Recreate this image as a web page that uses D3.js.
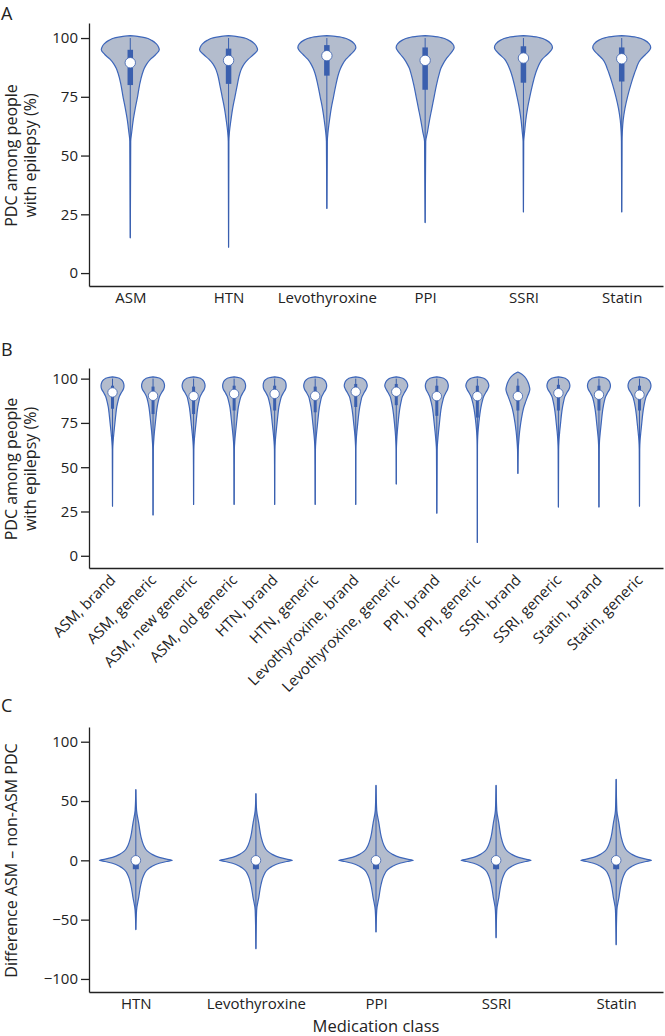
<!DOCTYPE html>
<html>
<head>
<meta charset="utf-8">
<script src="https://cdn.jsdelivr.net/npm/d3@7"></script>
<style>
  body { margin: 0; background: #fff; }
  text { font-family: "Open Sans", sans-serif; }
</style>
</head>
<body>
<div id="vis"></div>
<script>
const FRAME_WIDTH = 665;
const FRAME_HEIGHT = 1036;

const FILL = '#b3bccd';
const LINE = '#3d66ba';
const BOX = '#3a5fae';
const INK = '#222';

// ---- panel A : PDC by medication class ----
const catsA = ['ASM', 'HTN', 'Levothyroxine', 'PPI', 'SSRI', 'Statin'];
const minA = [15, 11, 27.5, 21.5, 26, 26];
const q1A = [80, 80.5, 84, 78, 81, 81.5];
const medA = [89.5, 90.5, 92.5, 90.5, 91.5, 91.2];
const q3A = [95, 95.5, 97, 96, 96.5, 96];
const maxA = [100, 100, 100, 100, 100, 100];
const ticksA = [0, 25, 50, 75, 100];
// violin outline: relative half-width at each level
const levelsA = [101, 100.6, 100.2, 99, 97.5, 96, 95, 93, 91, 89, 87, 85, 80, 75, 70, 65, 60, 56];
const widthsA = [
  [0, .3, .5, .74, .9, .98, 1, .88, .7, .57, .48, .42, .32, .25, .17, .1, .05, .015],
  [0, .3, .5, .74, .9, .98, 1, .86, .68, .54, .45, .39, .3, .22, .14, .08, .03, .01],
  [0, .35, .55, .8, .95, 1, .97, .82, .66, .55, .47, .41, .31, .23, .15, .09, .04, .015],
  [0, .35, .55, .8, .95, 1, .97, .85, .72, .62, .54, .49, .39, .31, .23, .15, .08, .02],
  [0, .35, .55, .8, .95, 1, .97, .82, .65, .55, .48, .42, .31, .22, .14, .08, .04, .01],
  [0, .35, .55, .8, .95, 1, .97, .82, .66, .56, .5, .44, .31, .2, .11, .05, .02, .01]
];

// ---- panel B : brand vs generic ----
const catsB = ['ASM, brand', 'ASM, generic', 'ASM, new generic', 'ASM, old generic',
  'HTN, brand', 'HTN, generic', 'Levothyroxine, brand', 'Levothyroxine, generic',
  'PPI, brand', 'PPI, generic', 'SSRI, brand', 'SSRI, generic', 'Statin, brand', 'Statin, generic'];
const minB = [28, 23, 29, 29, 29, 29, 29, 40.5, 24, 7.5, 46.5, 27.5, 27.5, 28];
const q1B = [83, 80, 80, 82, 82, 81, 84, 85, 79, 78, 82, 82, 82, 82];
const medB = [92.2, 90.3, 90.1, 91.4, 91.4, 90.3, 92.6, 92.6, 90.1, 90.1, 90.1, 91.8, 90.9, 90.9];
const q3B = [96, 95.5, 95.5, 96, 96, 95.5, 97, 97, 96, 96, 96, 96.5, 96, 96];
const maxB = [100, 100, 100, 100, 100, 100, 100, 100, 100, 100, 100, 100, 100, 100];
const ticksB = [0, 25, 50, 75, 100];
const levelsB = [103.7, 102.5, 101, 100.5, 99.5, 98, 96, 94, 92, 90, 87, 84, 80, 75, 70, 65, 60];
const widthsB = [
  [null, null, 0, .45, .75, .93, 1, .94, .76, .6, .47, .37, .29, .21, .13, .06, .02],
  [null, null, 0, .45, .75, .93, 1, .93, .74, .58, .45, .36, .28, .2, .12, .06, .02],
  [null, null, 0, .45, .75, .93, 1, .93, .74, .58, .46, .37, .29, .21, .13, .06, .02],
  [null, null, 0, .45, .75, .93, 1, .94, .76, .6, .47, .37, .29, .21, .13, .06, .02],
  [null, null, 0, .47, .77, .95, 1, .94, .76, .6, .47, .37, .29, .21, .13, .06, .02],
  [null, null, 0, .45, .75, .93, 1, .93, .74, .58, .46, .37, .29, .21, .13, .06, .02],
  [null, null, 0, .45, .75, .93, 1, .9, .72, .56, .44, .35, .26, .18, .1, .04, .01],
  [null, null, 0, .42, .72, .92, 1, .88, .7, .54, .42, .33, .24, .16, .09, .04, .01],
  [null, null, 0, .45, .75, .93, 1, .94, .78, .63, .5, .4, .31, .23, .15, .08, .03],
  [null, null, 0, .42, .72, .92, 1, .9, .72, .56, .42, .32, .22, .13, .06, .02, .01],
  [0, .35, .6, .66, .76, .88, .98, 1.04, .97, .85, .68, .52, .38, .25, .15, .08, .03],
  [null, null, 0, .45, .75, .93, 1, .92, .73, .57, .45, .36, .27, .19, .11, .05, .02],
  [null, null, 0, .45, .75, .93, 1, .93, .75, .59, .46, .37, .28, .2, .12, .05, .02],
  [null, null, 0, .45, .75, .93, 1, .93, .75, .59, .46, .37, .28, .2, .12, .05, .02]
];

// ---- panel C : difference ASM - non-ASM ----
const catsC = ['HTN', 'Levothyroxine', 'PPI', 'SSRI', 'Statin'];
const minC = [-58.4, -74.5, -60.4, -65.2, -71.1];
const q1C = [-7.5, -7.5, -7.5, -7.5, -7.5];
const medC = [0, 0, 0, 0, 0];
const q3C = [0, 0, 0, 0, 0];
const maxC = [59.6, 56.2, 63.2, 63.2, 68.3];
const ticksC = [-100, -50, 0, 50, 100];
const levelsC = [42, 31, 20, 13, 8, 5.3, 2.5, 1, 0, -1, -2.5, -5.3, -8, -13, -20, -31, -42];
const shapeC = [.02, .08, .14, .21, .31, .43, .64, .84, 1, .84, .64, .43, .31, .21, .14, .08, .02];
const peakC = [1, 1, 1.02, .96, .97];

const svg = d3.select('#vis')
  .append('svg')
    .attr('width', FRAME_WIDTH)
    .attr('height', FRAME_HEIGHT);

const AX_LEFT = 89;
const AX_RIGHT = 663;

function panel(cfg) {
  const y = d3.scaleLinear().domain(cfg.yDomain).range([cfg.bottom, cfg.top]);
  const x = d3.scalePoint().domain(cfg.cats).range([AX_LEFT, AX_RIGHT]).padding(cfg.pad);
  const g = svg.append('g');

  cfg.cats.forEach((c, i) => {
    const cx = x(c);
    let pts = cfg.levels.map((v, j) => ({v: v, w: cfg.widths(i, j)}))
      .filter(d => d.w != null);
    pts.push({v: cfg.min[i], w: 0});
    if (cfg.max) pts.unshift({v: cfg.max[i], w: 0});

    const area = d3.area()
      .y(d => y(d.v))
      .x0(d => cx - d.w * cfg.half)
      .x1(d => cx + d.w * cfg.half)
      .curve(d3.curveMonotoneY);

    g.append('path')
      .attr('d', area(pts))
      .attr('fill', FILL)
      .attr('stroke', LINE)
      .attr('stroke-width', 1.2)
      .attr('stroke-linejoin', 'round');

    // whisker
    g.append('line')
      .attr('x1', cx).attr('x2', cx)
      .attr('y1', y(cfg.min[i])).attr('y2', y(cfg.whiskTop[i]))
      .attr('stroke', BOX)
      .attr('stroke-width', 1);

    // box
    g.append('rect')
      .attr('x', cx - cfg.boxW / 2)
      .attr('width', cfg.boxW)
      .attr('y', y(cfg.q3[i]))
      .attr('height', y(cfg.q1[i]) - y(cfg.q3[i]))
      .attr('fill', BOX);

    // median
    g.append('circle')
      .attr('cx', cx)
      .attr('cy', y(cfg.med[i]))
      .attr('r', cfg.dotR)
      .attr('fill', '#fff')
      .attr('stroke', BOX)
      .attr('stroke-width', 0.8);
  });

  const yAxis = g.append('g')
    .attr('transform', 'translate(' + AX_LEFT + ',0)')
    .call(d3.axisLeft(y).tickValues(cfg.ticks).tickSize(8).tickPadding(3).tickSizeOuter(0));

  const xAxis = g.append('g')
    .attr('transform', 'translate(0,' + cfg.bottom + ')')
    .call(d3.axisBottom(x).tickSize(0).tickPadding(6).tickSizeOuter(0));

  [yAxis, xAxis].forEach(a => {
    a.attr('font-size', 15).attr('font-family', '"Open Sans", sans-serif').attr('color', INK);
    a.selectAll('path, line').attr('stroke-width', 1.3);
  });

  if (cfg.rotate) {
    xAxis.selectAll('text')
      .attr('x', 0).attr('y', 0).attr('dy', 0)
      .attr('text-anchor', 'end')
      .attr('transform', 'translate(3.5,13) rotate(-45)');
  }

  // panel letter
  svg.append('text')
    .attr('x', 1).attr('y', cfg.letterY)
    .attr('font-size', 18)
    .attr('fill', INK)
    .text(cfg.letter);

  // y title
  const t = svg.append('text')
    .attr('transform', 'translate(17,' + ((cfg.top + cfg.bottom) / 2 + 1) + ') rotate(-90)')
    .attr('text-anchor', 'middle')
    .attr('font-size', 16)
    .attr('fill', INK);
  cfg.title.forEach((line, k) => {
    t.append('tspan').attr('x', 0).attr('dy', k === 0 ? 0 : 19).text(line);
  });
}

panel({
  letter: 'A', letterY: 19.5,
  cats: catsA, pad: 0.42, top: 23, bottom: 286, yDomain: [-5.5, 106.4],
  ticks: ticksA, levels: levelsA, widths: (i, j) => widthsA[i][j], half: 29,
  min: minA, q1: q1A, med: medA, q3: q3A, whiskTop: maxA,
  boxW: 5.5, dotR: 5.2,
  title: ['PDC among people', 'with epilepsy (%)']
});

panel({
  letter: 'B', letterY: 356,
  cats: catsB, pad: 0.58, top: 368, bottom: 568, yDomain: [-6.9, 106],
  ticks: ticksB, levels: levelsB, widths: (i, j) => widthsB[i][j], half: 11.5,
  min: minB, q1: q1B, med: medB, q3: q3B, whiskTop: maxB,
  boxW: 3, dotR: 4.7, rotate: true,
  title: ['PDC among people', 'with epilepsy (%)']
});

panel({
  letter: 'C', letterY: 712,
  cats: catsC, pad: 0.39, top: 727, bottom: 992, yDomain: [-111, 112.4],
  ticks: ticksC, levels: levelsC, widths: (i, j) => shapeC[j] * peakC[i], half: 36.5,
  min: minC, max: maxC, q1: q1C, med: medC, q3: q3C, whiskTop: maxC,
  boxW: 6, dotR: 4.8,
  title: ['Difference ASM \u2013 non-ASM PDC']
});

// x title, panel C
svg.append('text')
  .attr('x', (AX_LEFT + AX_RIGHT) / 2)
  .attr('y', 1032)
  .attr('text-anchor', 'middle')
  .attr('font-size', 16.5)
  .attr('fill', INK)
  .text('Medication class');
</script>
</body>
</html>
